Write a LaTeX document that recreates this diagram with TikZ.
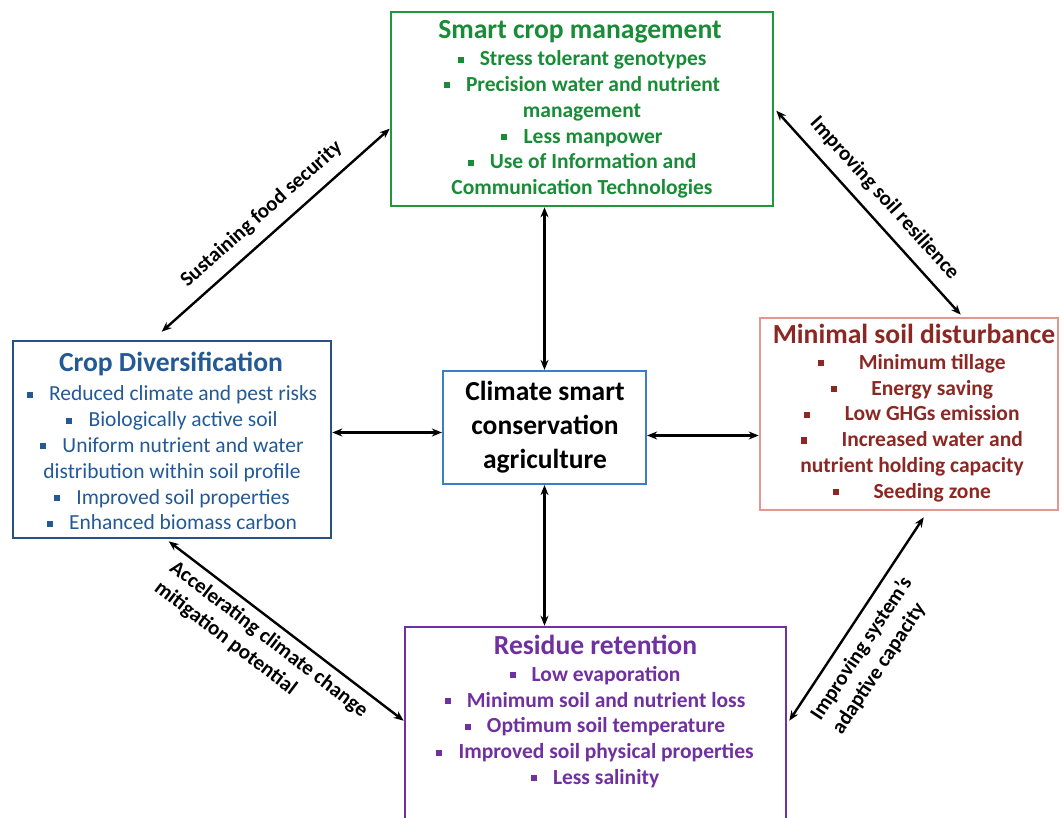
\documentclass[tikz,border=0pt]{standalone}
\usepackage{fontspec}
\setmainfont{Carlito}
\usetikzlibrary{arrows.meta,calc}
\definecolor{grB}{RGB}{34,150,60}
\definecolor{grT}{RGB}{25,140,55}
\definecolor{blB}{RGB}{40,80,135}
\definecolor{blT}{RGB}{35,90,150}
\definecolor{cB}{RGB}{60,125,200}
\definecolor{rdB}{RGB}{228,150,145}
\definecolor{rdT}{RGB}{140,40,35}
\definecolor{puB}{RGB}{112,48,160}
\definecolor{puT}{RGB}{112,48,160}
\newcommand{\sqb}{\raisebox{0.3ex}{\rule{0.28em}{0.28em}}\hspace{0.75em}}
\newcommand{\sqbw}{\raisebox{0.3ex}{\rule{0.28em}{0.28em}}\hspace{1.6em}}
\begin{document}
\begin{tikzpicture}[x=1pt,y=-1pt,
  box/.style={draw, line width=2.6pt, fill=white, inner sep=0pt},
  ttl/.style={font=\fontsize{27.6}{30}\selectfont\bfseries, align=center, inner sep=0pt},
  itm/.style={font=\fontsize{21.5}{25.8}\selectfont, align=center, inner sep=0pt},
  itmb/.style={font=\fontsize{21.5}{25.8}\selectfont\bfseries, align=center, inner sep=0pt},
  arr/.style={{Stealth[length=10pt,width=8pt]}-{Stealth[length=10pt,width=8pt]}, line width=2.4pt, black},
  lbl/.style={font=\fontsize{21}{25.5}\selectfont\bfseries, align=center, sloped, inner sep=0pt}]
\useasboundingbox (0,0) rectangle (1062,818);
\fill[white] (0,0) rectangle (1062,818);

% boxes
\node[box, draw=grB, minimum width=382pt, minimum height=194pt] (scm) at (582,109) {};
\node[box, draw=blB, minimum width=318pt, minimum height=197pt] (cd) at (172,439.5) {};
\node[box, draw=cB, minimum width=203pt, minimum height=113pt, line width=2.2pt] (csa) at (544.5,427.5) {};
\node[box, draw=rdB, minimum width=298pt, minimum height=192pt] (msd) at (909,414) {};
\node[box, draw=puB, minimum width=381pt, minimum height=223pt] (rr) at (595.5,738.5) {};

% texts
\node[ttl, text=grT] (scmT) at (580,32) {Smart crop management};
\node[itmb, text=grT] (scmI) at (582,124.5)
  {\sqb Stress tolerant genotypes\\
   \sqb Precision water and nutrient\\
   management\\
   \sqb Less manpower\\
   \sqb Use of Information and\\
   Communication Technologies};

\node[ttl, text=blT] (cdT) at (171,364) {Crop Diversification};
\node[itm, text=blT] (cdI) at (172,458)
  {\sqb Reduced climate and pest risks\\
   \sqb Biologically active soil\\
   \sqb Uniform nutrient and water\\
   distribution within soil profile\\
   \sqb Improved soil properties\\
   \sqb Enhanced biomass carbon};

\node[align=center, inner sep=0pt, font=\fontsize{27.5}{34}\selectfont\bfseries] (csaT) at (545,427)
  {Climate smart\\conservation\\agriculture};

\node[ttl, text=rdT] (msdT) at (914,334) {Minimal soil disturbance};
\node[itmb, text=rdT] (msdI) at (912,428)
  {\sqbw Minimum tillage\\
   \sqbw Energy saving\\
   \sqbw Low GHGs emission\\
   \sqbw Increased water and\\
   nutrient holding capacity\\
   \sqbw Seeding zone};

\node[ttl, text=puT] (rrT) at (595.5,645) {Residue retention};
\node[itmb, text=puT] (rrI) at (595,727)
  {\sqb Low evaporation\\
   \sqb Minimum soil and nutrient loss\\
   \sqb Optimum soil temperature\\
   \sqb Improved soil physical properties\\
   \sqb Less salinity};

% straight connectors
\draw[arr] (csa.north) -- (csa.north |- scm.south);
\draw[arr] (csa.south) -- (csa.south |- rr.north);
\draw[arr] ($(csa.west)+(0,5)$) -- ($(csa.west -| cd.east)+(0,5)$);
\draw[arr] ($(csa.east)+(0,8)$) -- ($(csa.east -| msd.west)+(0,8)$);

% diagonal connectors
\draw[arr] ($(cd.north west)+(150,-8)$) -- node[lbl, above=11pt] (l1) {Sustaining food security} ($(scm.north west)+(0,118)$);
\draw[arr] ($(scm.north east)+(2,100)$) -- node[lbl, above=11pt] (l2) {Improving soil resilience} ($(msd.north west)+(202,-2)$);
\draw[arr] ($(cd.south west)+(157,2)$) -- node[lbl, align=left, below=7pt, pos=0.47] (l3) {Accelerating climate change\\mitigation potential} ($(rr.north west)+(0,95)$);
\draw[arr] ($(rr.north east)+(2,95)$) -- node[lbl, align=left, below=10pt, pos=0.41] (l4) {Improving system's\\adaptive capacity} ($(msd.south west)+(165,6)$);
\end{tikzpicture}
\end{document}
